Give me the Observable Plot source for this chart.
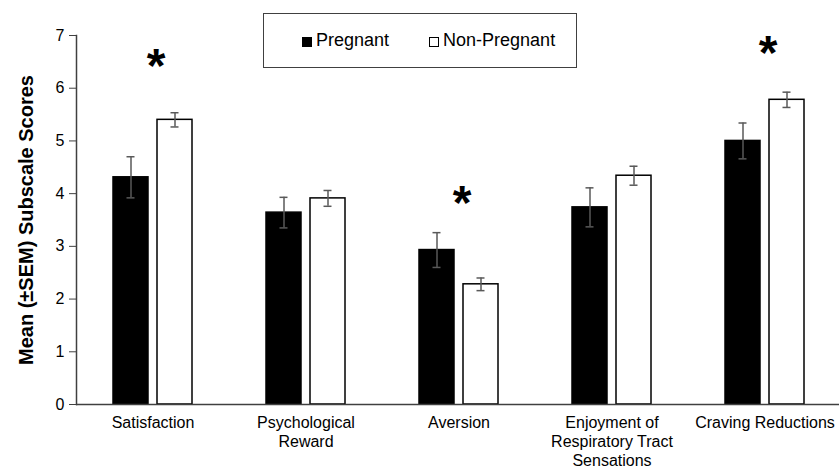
<!DOCTYPE html>
<html>
<head>
<meta charset="utf-8">
<script src="https://cdn.jsdelivr.net/npm/d3@7"></script>
<script src="https://cdn.jsdelivr.net/npm/@observablehq/plot@0.6"></script>
<style>
  body { margin: 0; background: #fff; font-family: "Liberation Sans", Arial, sans-serif; }
  #wrap { position: relative; width: 839px; height: 468px; overflow: hidden; }
  #legend {
    position: absolute; left: 263px; top: 13px; width: 314px; height: 55px;
    box-sizing: border-box; border: 1.5px solid #404040; background: #fff;
    display: flex; align-items: center; padding-left: 38px;
    font-size: 18px; color: #000; font-family: "Liberation Sans", Arial, sans-serif;
  }
  #legend .sw { display: inline-block; width: 10px; height: 10px; box-sizing: border-box; margin-right: 4px; position: relative; top: 1px; }
  #legend .item { display: flex; align-items: center; }
</style>
</head>
<body>
<div id="wrap"><div id="chart"></div><div id="legend"></div></div>
<script>
const categories = ["Satisfaction", "Psychological Reward", "Aversion", "Enjoyment of Respiratory Tract Sensations", "Craving Reductions"];
const tickLabels = ["Satisfaction", "Psychological\nReward", "Aversion", "Enjoyment of\nRespiratory Tract\nSensations", "Craving Reductions"];
const groups = ["Pregnant", "Non-Pregnant"];
const pregnantMean = [4.31, 3.64, 2.93, 3.74, 5.00];
const pregnantSEM = [0.39, 0.29, 0.33, 0.37, 0.34];
const nonPregnantMean = [5.40, 3.91, 2.28, 4.34, 5.78];
const nonPregnantSEM = [0.135, 0.15, 0.12, 0.18, 0.145];
const yTicks = [0, 1, 2, 3, 4, 5, 6, 7];
const yLabel = "Mean (±SEM) Subscale Scores";
const sigCategories = ["Satisfaction", "Aversion", "Craving Reductions"];
const sigHeights = [6.41, 3.81, 6.65];

const rows = [];
categories.forEach((c, i) => {
  rows.push({cat: c, group: groups[0], mean: pregnantMean[i], sem: pregnantSEM[i]});
  rows.push({cat: c, group: groups[1], mean: nonPregnantMean[i], sem: nonPregnantSEM[i]});
});
const sig = sigCategories.map((c, i) => ({cat: c, y: sigHeights[i]}));

const errColor = "#595959";
const chart = Plot.plot({
  width: 839, height: 468,
  marginLeft: 75, marginRight: -3, marginTop: 35, marginBottom: 64,
  style: {fontFamily: "'Liberation Sans', Arial, sans-serif", fontSize: "16px", color: "#000", background: "#fff"},
  fx: {domain: categories, padding: 0, label: null},
  x: {domain: groups, paddingInner: 0.202, paddingOuter: 0.826, axis: null},
  y: {domain: [0, 7]},
  color: {domain: groups, range: ["#000", "#fff"]},
  marks: [
    Plot.barY(rows, {fx: "cat", x: "group", y: "mean", fill: "group", stroke: "#000", strokeWidth: 1.5}),
    Plot.ruleX(rows, {fx: "cat", x: "group", y1: d => d.mean - d.sem, y2: d => d.mean + d.sem, stroke: errColor, strokeWidth: 1.5}),
    Plot.tickY(rows, {fx: "cat", x: "group", y: d => d.mean + d.sem, stroke: errColor, strokeWidth: 1.5, insetLeft: 13.5, insetRight: 13.5}),
    Plot.tickY(rows, {fx: "cat", x: "group", y: d => d.mean - d.sem, stroke: errColor, strokeWidth: 1.5, insetLeft: 13.5, insetRight: 13.5}),
    Plot.ruleY([0], {stroke: "#404040", strokeWidth: 1.5}),
    Plot.frame({anchor: "left", facetAnchor: "left", stroke: "#404040", strokeWidth: 1.5}),
    Plot.axisY({ticks: yTicks, tickSize: 7, tickPadding: 5, fontSize: 16, stroke: "#404040", fill: "#000", label: null, tickFormat: d => String(d)}),
    Plot.axisFx({anchor: "bottom", tickSize: 0, tickPadding: 10, fontSize: 16, lineHeight: 1.18, fill: "#000", label: null,
      tickFormat: d => tickLabels[categories.indexOf(d)]}),
    Plot.text([yLabel], {frameAnchor: "left", facetAnchor: "left", rotate: -90, dx: -50, textAnchor: "middle", lineAnchor: "middle", fontSize: 20, fontWeight: "bold", fill: "#000", text: d => d}),
    Plot.text(sig, {fx: "cat", y: "y", text: () => "*", dx: 3, fontSize: 48, fontWeight: "bold", fill: "#000"})
  ]
});
document.getElementById("chart").appendChild(chart);

const legend = document.getElementById("legend");
groups.forEach((g, i) => {
  const item = document.createElement("span");
  item.className = "item";
  if (i > 0) item.style.marginLeft = "40px";
  const sw = document.createElement("span");
  sw.className = "sw";
  sw.style.background = i === 0 ? "#000" : "#fff";
  sw.style.border = "1px solid #000";
  const t = document.createElement("span");
  t.textContent = g;
  item.appendChild(sw); item.appendChild(t);
  legend.appendChild(item);
});
</script>
</body>
</html>
